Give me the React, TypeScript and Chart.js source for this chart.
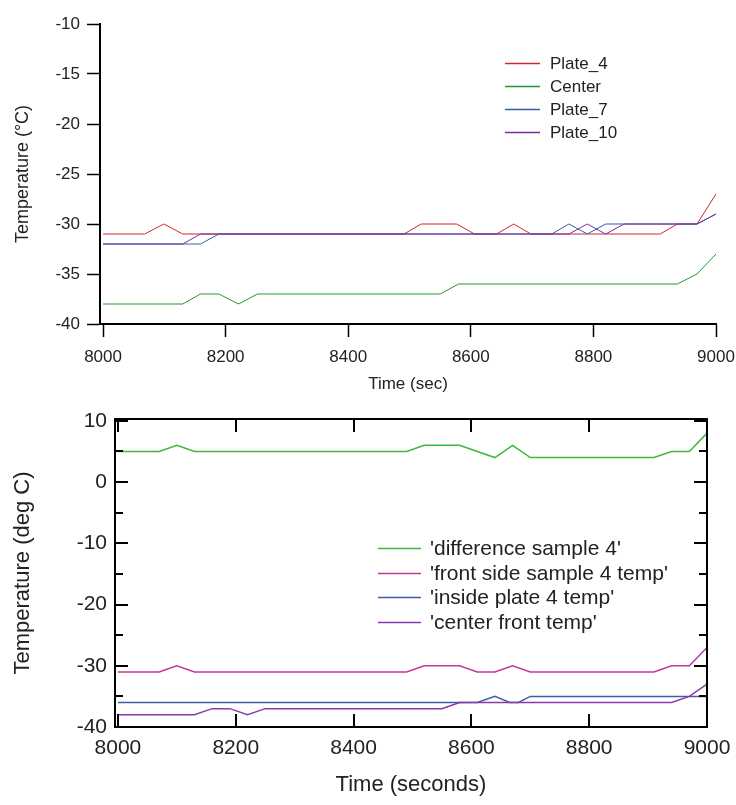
import React, { useEffect, useRef } from 'react';
import { Chart, registerables } from 'chart.js';

Chart.register(...registerables);

const FONT = '"Liberation Sans", Arial, Helvetica, sans-serif';

// ---------- Top chart data ----------
const topXTicks = [8000, 8200, 8400, 8600, 8800, 9000];
const topYTicks = [-40, -35, -30, -25, -20, -15, -10];

const plate4Time = [8000, 8068, 8099, 8130, 8491, 8519, 8577, 8606, 8642, 8670, 8698, 8909, 8937, 8969, 9000];
const plate4Temp = [-31, -31, -30, -31, -31, -30, -30, -31, -31, -30, -31, -31, -30, -30, -27];

const centerTime = [8000, 8130, 8159, 8189, 8221, 8252, 8550, 8580, 8937, 8969, 9000];
const centerTemp = [-38, -38, -37, -37, -38, -37, -37, -36, -36, -35, -33];

const plate7Time = [8000, 8159, 8189, 8732, 8760, 8790, 8820, 8969, 9000];
const plate7Temp = [-32, -32, -31, -31, -30, -31, -30, -30, -29];

const plate10Time = [8000, 8130, 8159, 8760, 8790, 8820, 8850, 8969, 9000];
const plate10Temp = [-32, -32, -31, -31, -30, -31, -30, -30, -29];

// ---------- Bottom chart data ----------
const botXTicks = [8000, 8200, 8400, 8600, 8800, 9000];
const botYTicks = [-40, -35, -30, -25, -20, -15, -10, -5, 0, 5, 10];

const diffTime = [8000, 8070, 8100, 8130, 8490, 8520, 8580, 8610, 8640, 8670, 8700, 8910, 8940, 8970, 9000];
const diffTemp = [5, 5, 6, 5, 5, 6, 6, 5, 4, 6, 4, 4, 5, 5, 8];

const frontTime = [8000, 8070, 8100, 8130, 8490, 8520, 8580, 8610, 8640, 8670, 8700, 8910, 8940, 8970, 9000];
const frontTemp = [-31, -31, -30, -31, -31, -30, -30, -31, -31, -30, -31, -31, -30, -30, -27];

const insideTime = [8000, 8610, 8640, 8665, 8680, 8700, 9000];
const insideTemp = [-36, -36, -35, -36, -36, -35, -35];

const cfrontTime = [8000, 8130, 8160, 8190, 8220, 8250, 8550, 8580, 8940, 8970, 9000];
const cfrontTemp = [-38, -38, -37, -37, -38, -37, -37, -36, -36, -35, -33];

const pts = (t: number[], v: number[]) => t.map((x, i) => ({ x, y: v[i] }));
const plain = (v: any) => String(v);
const noPad = (s: any) => {
  s.paddingLeft = 0;
  s.paddingRight = 0;
  s.paddingTop = 0;
  s.paddingBottom = 0;
};

const insideLegend = {
  id: 'insideLegend',
  afterDatasetsDraw(chart: any, _args: any, opts: any) {
    const ctx = chart.ctx;
    ctx.save();
    ctx.font = `${opts.size}px ${FONT}`;
    ctx.textBaseline = 'middle';
    ctx.textAlign = 'left';
    chart.data.datasets.forEach((ds: any, i: number) => {
      const y = Math.round(opts.y + i * opts.row);
      ctx.strokeStyle = ds.borderColor;
      ctx.lineWidth = opts.lw;
      ctx.beginPath();
      ctx.moveTo(opts.x, y + 0.5);
      ctx.lineTo(opts.x + opts.len, y + 0.5);
      ctx.stroke();
      ctx.fillStyle = '#222';
      ctx.fillText(ds.label, opts.x + opts.len + opts.gap, y + 1);
    });
    ctx.restore();
  },
};

const innerFrame = {
  id: 'innerFrame',
  afterDraw(chart: any, _args: any, opts: any) {
    const { ctx, chartArea } = chart;
    const { left, right, top, bottom } = chartArea;
    const x = chart.scales.x;
    const y = chart.scales.y;
    ctx.save();
    ctx.strokeStyle = '#000';
    const line = (x1: number, y1: number, x2: number, y2: number) => {
      ctx.beginPath();
      ctx.moveTo(x1, y1);
      ctx.lineTo(x2, y2);
      ctx.stroke();
    };
    ctx.lineWidth = 2;
    ctx.strokeRect(left, top, right - left, bottom - top);
    x.ticks.forEach((t: any) => {
      const px = Math.round(x.getPixelForValue(t.value));
      line(px, bottom, px, bottom - opts.major);
      line(px, top, px, top + opts.major);
    });
    y.ticks.forEach((t: any) => {
      const py = Math.round(y.getPixelForValue(t.value));
      const len = t.value % 10 === 0 ? opts.major : opts.minor;
      line(left, py, left + len, py);
      line(right, py, right - len, py);
    });
    ctx.restore();
  },
};

function topConfig(): any {
  return {
    type: 'line',
    data: {
      datasets: [
        { label: 'Plate_4', data: pts(plate4Time, plate4Temp), borderColor: '#d02828', order: 4 },
        { label: 'Center', data: pts(centerTime, centerTemp), borderColor: '#22992f', order: 3 },
        { label: 'Plate_7', data: pts(plate7Time, plate7Temp), borderColor: '#3060a8', order: 2 },
        { label: 'Plate_10', data: pts(plate10Time, plate10Temp), borderColor: '#7a2f9e', order: 1 },
      ],
    },
    options: {
      responsive: false,
      animation: false,
      layout: { padding: { top: 24, right: 20, left: 0, bottom: 0 } },
      elements: { point: { radius: 0 }, line: { borderWidth: 1, tension: 0 } },
      plugins: {
        legend: { display: false },
        tooltip: { enabled: false },
        insideLegend: { x: 505, y: 63, row: 23, len: 35, gap: 10, size: 17, lw: 1.5 },
      },
      scales: {
        x: {
          type: 'linear',
          min: 7995,
          max: 9000,
          afterBuildTicks: (s: any) => { s.ticks = topXTicks.map((v) => ({ value: v })); },
          afterFit: (s: any) => { s.height = 76; noPad(s); },
          grid: { drawOnChartArea: false, drawTicks: true, tickLength: 13, tickColor: '#000', tickWidth: 1.5 },
          border: { display: true, color: '#000', width: 2 },
          ticks: { font: { family: FONT, size: 17 }, color: '#222', padding: 10, maxRotation: 0, autoSkip: false, callback: plain },
          title: { display: true, text: 'Time (sec)', font: { family: FONT, size: 17 }, color: '#222', padding: { top: 0, bottom: 5 } },
        },
        y: {
          type: 'linear',
          min: -40,
          max: -10,
          afterBuildTicks: (s: any) => { s.ticks = topYTicks.map((v) => ({ value: v })); },
          afterFit: (s: any) => { s.width = 100; noPad(s); },
          grid: { drawOnChartArea: false, drawTicks: true, tickLength: 13, tickColor: '#000', tickWidth: 1.5 },
          border: { display: true, color: '#000', width: 2 },
          ticks: { font: { family: FONT, size: 17 }, color: '#222', padding: 7, autoSkip: false, callback: plain },
          title: { display: true, text: 'Temperature (°C)', font: { family: FONT, size: 18 }, color: '#222', padding: { top: 12, bottom: 0 } },
        },
      },
    },
    plugins: [insideLegend],
  };
}

function bottomConfig(): any {
  return {
    type: 'line',
    data: {
      datasets: [
        { label: "'difference sample 4'", data: pts(diffTime, diffTemp), borderColor: '#3cb83c', order: 4 },
        { label: "'front side sample 4 temp'", data: pts(frontTime, frontTemp), borderColor: '#c0389a', order: 3 },
        { label: "'inside plate 4 temp'", data: pts(insideTime, insideTemp), borderColor: '#3f5f9f', order: 2 },
        { label: "'center front temp'", data: pts(cfrontTime, cfrontTemp), borderColor: '#8a3aa8', order: 1 },
      ],
    },
    options: {
      responsive: false,
      animation: false,
      layout: { padding: { top: 19, right: 29, left: 0, bottom: 0 } },
      elements: { point: { radius: 0 }, line: { borderWidth: 1.5, tension: 0 } },
      plugins: {
        legend: { display: false },
        tooltip: { enabled: false },
        insideLegend: { x: 378, y: 148, row: 24.5, len: 43, gap: 9, size: 21, lw: 1.5 },
        innerFrame: { major: 13, minor: 8 },
      },
      scales: {
        x: {
          type: 'linear',
          min: 7995,
          max: 9000,
          afterBuildTicks: (s: any) => { s.ticks = botXTicks.map((v) => ({ value: v })); },
          afterFit: (s: any) => { s.height = 78; noPad(s); },
          grid: { display: true, drawOnChartArea: false, drawTicks: false },
          border: { display: false },
          ticks: { font: { family: FONT, size: 21 }, color: '#222', padding: 9, maxRotation: 0, autoSkip: false, callback: plain },
          title: { display: true, text: 'Time (seconds)', font: { family: FONT, size: 22 }, color: '#222', padding: { top: 0, bottom: 7 } },
        },
        y: {
          type: 'linear',
          min: -40,
          max: 10.3,
          afterBuildTicks: (s: any) => { s.ticks = botYTicks.map((v) => ({ value: v })); },
          afterFit: (s: any) => { s.width = 115; noPad(s); },
          grid: { display: true, drawOnChartArea: false, drawTicks: false },
          border: { display: false },
          ticks: {
            font: { family: FONT, size: 21 },
            color: '#222',
            padding: 8,
            autoSkip: false,
            callback: (v: any) => (Number(v) % 10 === 0 ? String(v) : ''),
          },
          title: { display: true, text: 'Temperature (deg C)', font: { family: FONT, size: 22 }, color: '#222', padding: { top: 10, bottom: 0 } },
        },
      },
    },
    plugins: [insideLegend, innerFrame],
  };
}

function ChartCanvas({ make, width, height, top }: { make: () => any; width: number; height: number; top: number }) {
  const ref = useRef<HTMLCanvasElement | null>(null);
  useEffect(() => {
    if (!ref.current) return;
    const chart = new Chart(ref.current, make());
    return () => chart.destroy();
  }, []);
  return (
    <canvas
      ref={ref}
      width={width}
      height={height}
      style={{ position: 'absolute', left: 0, top, width, height, display: 'block' }}
    />
  );
}

export default function App() {
  return (
    <div style={{ position: 'absolute', left: 0, top: 0, width: 736, height: 805, background: '#fff', overflow: 'hidden' }}>
      <ChartCanvas make={topConfig} width={736} height={400} top={0} />
      <ChartCanvas make={bottomConfig} width={736} height={405} top={400} />
    </div>
  );
}
